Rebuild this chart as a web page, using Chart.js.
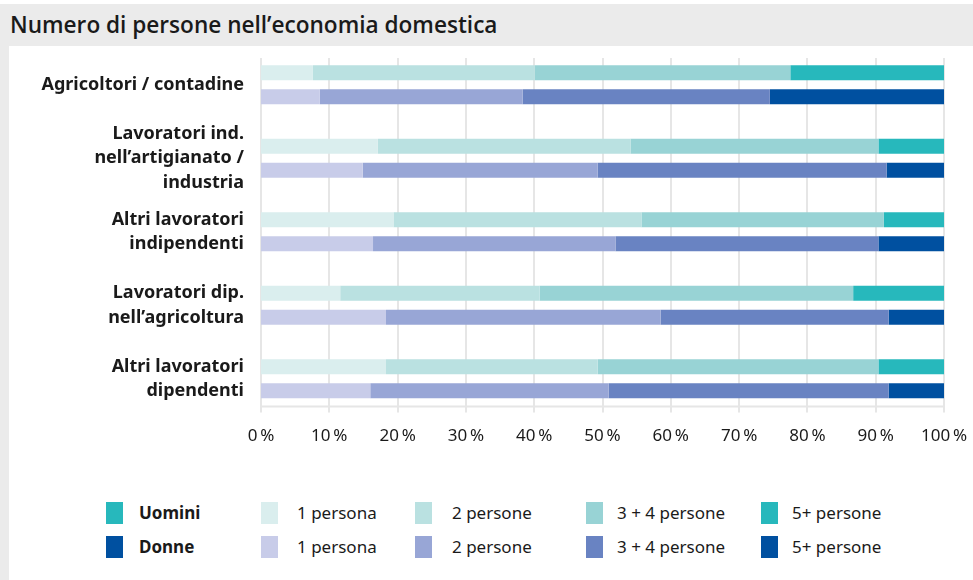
<!DOCTYPE html>
<html>
<head>
<meta charset="utf-8">
<script src="https://cdn.jsdelivr.net/npm/chart.js@4"></script>
<style>
  body { margin: 0; background: #fff; width: 973px; height: 580px; position: relative; overflow: hidden; font-family: "Noto Sans", sans-serif; color: #1a1a1a; }
  #titlebar { position: absolute; left: 0; top: 4px; width: 973px; height: 42px; background: #ebebeb; }
  #titlebar span { position: absolute; left: 10px; top: 5px; font-size: 22.6px; font-family: "Open Sans", sans-serif; font-weight: 600; }
  #strip { position: absolute; left: 0; top: 4px; width: 9px; height: 576px; background: #ebebeb; }
  #wrap { position: absolute; left: 10px; top: 47px; width: 963px; height: 420px; }
  .lg { position: absolute; font-size: 17px; line-height: 22px; }
  .sw { position: absolute; width: 17px; height: 22px; }
</style>
</head>
<body>
<div id="titlebar"><span>Numero di persone nell’economia domestica</span></div>
<div id="strip"></div>
<div id="wrap"><canvas id="chart1" width="963" height="420"></canvas></div>
<div id="legend"></div>
<script>
const categories = [
  ["Agricoltori / contadine"],
  ["Lavoratori ind.", "nell’artigianato /", "industria"],
  ["Altri lavoratori", "indipendenti"],
  ["Lavoratori dip.", "nell’agricoltura"],
  ["Altri lavoratori", "dipendenti"]
];
const sizeLabels = ["1 persona", "2 persone", "3 + 4 persone", "5+ persone"];

// quote in % per categoria
const uomini1 = [7.6, 17.1, 19.4, 11.6, 18.3];
const uomini2 = [32.5, 37.0, 36.3, 29.2, 31.0];
const uomini34 = [37.4, 36.3, 35.5, 45.9, 41.1];
const uomini5 = [22.5, 9.6, 8.8, 13.3, 9.6];

const donne1 = [8.6, 14.9, 16.4, 18.3, 16.0];
const donne2 = [29.7, 34.4, 35.5, 40.2, 34.9];
const donne34 = [36.2, 42.3, 38.5, 33.4, 41.0];
const donne5 = [25.5, 8.4, 9.6, 8.1, 8.1];

const xTicks = [0, 10, 20, 30, 40, 50, 60, 70, 80, 90, 100];

const uominiColors = ["#daeeee", "#bae1e1", "#98d3d5", "#27b8bc"];
const donneColors = ["#c8cce9", "#98a6d6", "#6983c2", "#0050a0"];

const uomini = [uomini1, uomini2, uomini34, uomini5];
const donne = [donne1, donne2, donne34, donne5];

let datasets = [];
for (let i = 0; i < 4; i++) {
  datasets.push({ label: sizeLabels[i], data: uomini[i], backgroundColor: uominiColors[i], stack: "u" });
}
for (let i = 0; i < 4; i++) {
  datasets.push({ label: sizeLabels[i], data: donne[i], backgroundColor: donneColors[i], stack: "d" });
}
datasets.forEach(d => { d.categoryPercentage = 0.652; d.barPercentage = 0.625; d.borderWidth = 0; });

// griglia verticale un po' più corta dell'area del grafico, con linea di base
const gridPlugin = {
  id: "shortGrid",
  beforeDatasetsDraw(chart) {
    const ctx = chart.ctx;
    const area = chart.chartArea;
    const x = chart.scales.x;
    ctx.save();
    ctx.strokeStyle = "#e6e6e6";
    ctx.lineWidth = 2;
    ctx.beginPath();
    xTicks.forEach(v => {
      const px = Math.round(x.getPixelForValue(v));
      ctx.moveTo(px, area.top + 10);
      ctx.lineTo(px, area.bottom - 3);
    });
    ctx.moveTo(area.left, area.bottom - 9);
    ctx.lineTo(area.right, area.bottom - 9);
    ctx.stroke();
    ctx.restore();
  }
};

new Chart(document.getElementById("chart1"), {
  type: "bar",
  data: { labels: categories, datasets: datasets },
  plugins: [gridPlugin],
  options: {
    indexAxis: "y",
    responsive: false,
    animation: false,
    devicePixelRatio: 1,
    layout: { padding: { top: 1, right: 29, bottom: 11, left: 0 } },
    plugins: { legend: { display: false }, tooltip: { enabled: false } },
    scales: {
      x: {
        stacked: true,
        min: 0,
        max: 100,
        afterBuildTicks: s => { s.ticks = xTicks.map(v => ({ value: v })); },
        afterFit: s => { s.paddingLeft = 0; s.paddingRight = 0; },
        ticks: { callback: v => v + "\u2009%", color: "#1a1a1a", padding: 10, maxRotation: 0, autoSkip: false,
                 font: { family: "Noto Sans", size: 17 } },
        grid: { display: false, drawTicks: false },
        border: { display: false }
      },
      y: {
        stacked: true,
        afterFit: s => { s.width = 251; s.paddingTop = 0; s.paddingBottom = 0; },
        grid: { display: false, drawTicks: false },
        border: { display: false },
        ticks: { color: "#1a1a1a", padding: 17, autoSkip: false,
                 font: { family: "Noto Sans", size: 18, weight: "bold", lineHeight: 1.36 } }
      }
    }
  }
});

// legenda
const legend = document.getElementById("legend");
const rows = [
  { name: "Uomini", colors: uominiColors, y: 502 },
  { name: "Donne", colors: donneColors, y: 536 }
];
const swatchX = [261, 415, 586, 761];
const textX = [297, 452, 617, 792];
rows.forEach(r => {
  legend.insertAdjacentHTML("beforeend",
    `<div class="sw" style="left:106px;top:${r.y}px;background:${r.colors[3]}"></div>` +
    `<div class="lg" style="left:139px;top:${r.y}px;font-weight:bold">${r.name}</div>`);
  sizeLabels.forEach((lab, i) => {
    legend.insertAdjacentHTML("beforeend",
      `<div class="sw" style="left:${swatchX[i]}px;top:${r.y}px;background:${r.colors[i]}"></div>` +
      `<div class="lg" style="left:${textX[i]}px;top:${r.y}px">${lab}</div>`);
  });
});
</script>
</body>
</html>
